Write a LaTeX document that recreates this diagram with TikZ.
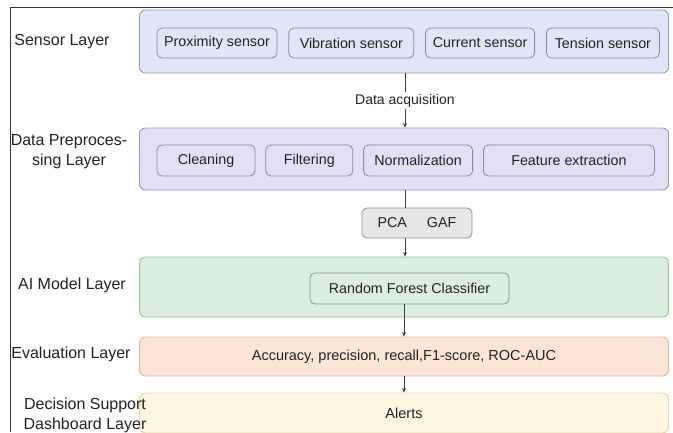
\documentclass[tikz,border=0pt]{standalone}
\usepackage{fontspec}
\setmainfont{Liberation Sans}
\usetikzlibrary{positioning,arrows.meta}
\definecolor{framec}{HTML}{2E3C37}
\definecolor{textc}{HTML}{222222}
\definecolor{sensfill}{HTML}{DEE7F8}
\definecolor{sensdraw}{HTML}{8F9CB6}
\definecolor{prepfill}{HTML}{E5DFF6}
\definecolor{prepdraw}{HTML}{9D94C4}
\definecolor{pcafill}{HTML}{E6E6E6}
\definecolor{pcadraw}{HTML}{8C8C8C}
\definecolor{aifill}{HTML}{DAEFDD}
\definecolor{aidraw}{HTML}{93C79E}
\definecolor{evalfill}{HTML}{FCE5D7}
\definecolor{evaldraw}{HTML}{E3B9A1}
\definecolor{decfill}{HTML}{FEF6E0}
\definecolor{decdraw}{HTML}{E8D5A8}
\tikzset{
  >={Stealth[length=4.5pt,width=4pt]},
  every node/.style={text=textc},
  layer/.style={rounded corners=6pt, line width=0.9pt, minimum width=529pt, inner sep=0pt},
  item/.style={rounded corners=5pt, line width=0.8pt, minimum height=30pt, inner sep=0pt, font=\fontsize{14.3}{16}\selectfont},
  lbl/.style={align=center, font=\fontsize{16}{20}\selectfont},
  flow/.style={draw=black!75, line width=0.7pt},
}

\begin{document}
\begin{tikzpicture}[x=1pt,y=-1pt]
\useasboundingbox[fill=white] (0,0) rectangle (673,432);
\draw[framec, line width=1.4pt] (10.5,432) -- (10.5,7.5) -- (673,7.5);

% layers
\node[layer, fill=sensfill, draw=sensdraw, minimum height=63pt] (sens) at (404,41.5) {};
\node[layer, fill=prepfill, draw=prepdraw, minimum height=62pt] (prep) at (404,159) {};
\node[layer, fill=aifill, draw=aidraw, minimum height=60pt] (ai) at (404,287) {};
\node[layer, fill=evalfill, draw=evaldraw, minimum height=39pt, font=\fontsize{14.5}{16}\selectfont] (eval) at (404,356.5) {Accuracy, precision, recall,F1-score, ROC-AUC};
\node[layer, fill=decfill, draw=decdraw, minimum height=40pt, font=\fontsize{14.5}{16}\selectfont] (dec) at (404,413) {Alerts};

% sensors
\node[item, fill=sensfill, draw=black!45, minimum width=120pt] (prox) at (217,43) {Proximity sensor};
\node[item, fill=sensfill, draw=black!45, minimum width=125pt, right=11pt of prox] (vib) {Vibration sensor};
\node[item, fill=sensfill, draw=black!45, minimum width=109pt, right=11pt of vib] (curr) {Current sensor};
\node[item, fill=sensfill, draw=black!45, minimum width=113pt, right=11pt of curr] (tens) {Tension sensor};

% preprocessing
\node[item, fill=prepfill, draw=black!45, minimum width=98pt, minimum height=31pt] (clean) at (206,160.5) {Cleaning};
\node[item, fill=prepfill, draw=black!45, minimum width=87pt, minimum height=31pt, right=10pt of clean] (filt) {Filtering};
\node[item, fill=prepfill, draw=black!45, minimum width=109pt, minimum height=31pt, right=10pt of filt] (norm) {Normalization};
\node[item, fill=prepfill, draw=black!45, minimum width=171pt, minimum height=31pt, right=10pt of norm] (feat) {Feature extraction};

\node[item, fill=pcafill, draw=pcadraw, minimum width=110pt] (pca) at (417,223) {PCA\hspace{20pt}GAF};
\node[item, fill=aifill, draw=aidraw!80!black, minimum width=199pt, minimum height=31pt] (rfc) at (409.5,288.5) {Random Forest Classifier};

% layer names
\node[lbl] (lsens) at (62,42) {Sensor Layer};
\node[lbl] (lprep) at (69,152) {Data Preproces-\\sing Layer};
\node[lbl] (lai) at (72,285) {AI Model Layer};
\node[lbl] (leval) at (71,354) {Evaluation Layer};
\node[lbl] (ldec) at (85,415) {Decision Support\\Dashboard Layer};

% connectors
\coordinate (sb) at (sens.south -| 405,0);
\coordinate (pt) at (prep.north -| 405,0);
\coordinate (pb) at (prep.south -| 405,0);
\coordinate (at) at (ai.north -| 405,0);
\draw[flow, ->] (sb) -- node[fill=white, inner sep=1.5pt, font=\fontsize{14}{16}\selectfont]{Data acquisition} (pt);
\draw[flow] (pb) -- (pb |- pca.north);
\draw[flow, ->] (pb |- pca.south) -- (at);
\draw[flow, ->] (rfc.south -| 404,0) -- (eval.north -| 404,0);
\draw[flow, ->] (eval.south -| 404,0) -- (dec.north -| 404,0);
\end{tikzpicture}
\end{document}
